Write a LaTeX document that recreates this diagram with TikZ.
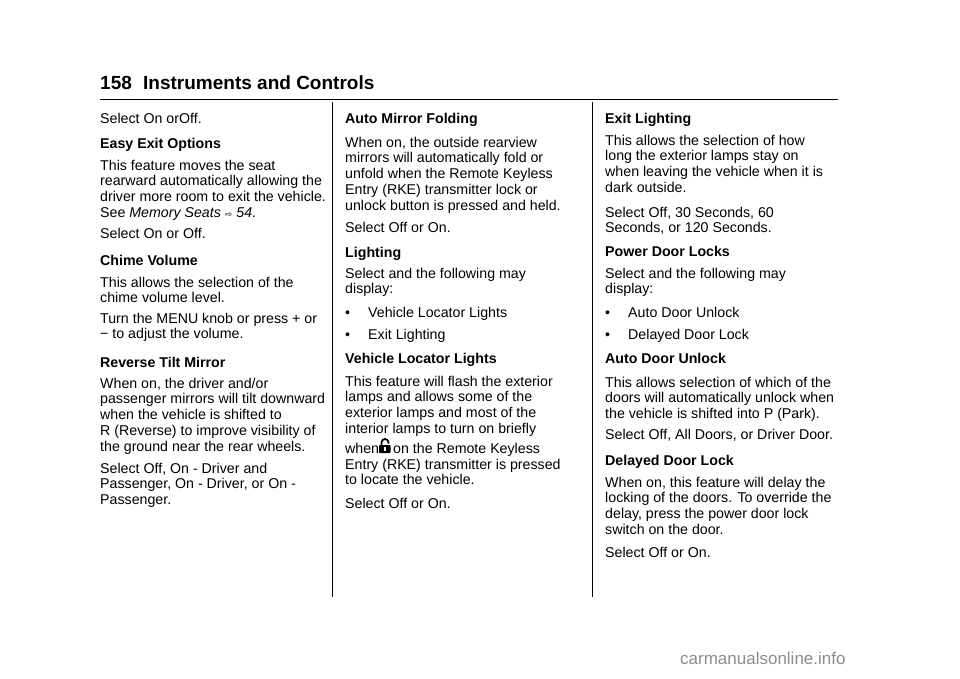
\documentclass[tikz,border=0pt]{standalone}
\usepackage{fontspec}
\setmainfont{Liberation Sans}
\newfontfamily\dejavu{DejaVu Sans}
\newcommand{\tb}[1]{\parbox[t]{260pt}{\raggedright\fontsize{14.2}{15.75}\selectfont #1}}
\begin{document}
\begin{tikzpicture}[x=1pt,y=-1pt,
 txt/.style={anchor=base west,inner sep=0pt,font=\fontsize{14.2}{15.75}\selectfont},
 hd/.style={txt,font=\fontsize{14.2}{15.75}\selectfont\bfseries},
 rl/.style={line width=0.8pt}]
\useasboundingbox (0,0) rectangle (960,678);
\fill[white] (0,0) rectangle (960,678);
% header
\node[txt,font=\fontsize{19}{22}\selectfont\bfseries] (pg) at (100,89) {158};
\node[txt,font=\fontsize{19}{22}\selectfont\bfseries] (ttl) at (143,89) {Instruments and Controls};
\coordinate (h1) at (100,99); \coordinate (h2) at (838,99);
\draw[line width=1pt] (h1) -- (h2);
\coordinate (v1a) at (332,102); \coordinate (v1b) at (332,597);
\coordinate (v2a) at (592,102); \coordinate (v2b) at (592,597);
\draw[rl] (v1a) -- (v1b); \draw[rl] (v2a) -- (v2b);
% column 1
\node[txt] (a1) at (100,123) {Select On orOff.};
\node[hd] (a2) at (100,148) {Easy Exit Options};
\node[txt] (a3) at (100,170) {\tb{This feature moves the seat\\rearward automatically allowing the\\driver more room to exit the vehicle.\\See \textit{Memory Seats} {\dejavu\fontsize{9}{10}\selectfont ⇨} \textit{54}.}};
\node[txt] (a4) at (100,238) {Select On or Off.};
\node[hd] (a5) at (100,265) {Chime Volume};
\node[txt] (a6) at (100,287) {\tb{This allows the selection of the\\chime volume level.}};
\node[txt] (a7) at (100,323) {\tb{Turn the MENU knob or press + or\\− to adjust the volume.}};
\node[hd] (a8) at (100,367) {Reverse Tilt Mirror};
\node[txt] (a9) at (100,388) {\tb{When on, the driver and/or\\passenger mirrors will tilt downward\\when the vehicle is shifted to\\R (Reverse) to improve visibility of\\the ground near the rear wheels.}};
\node[txt] (a10) at (100,473) {\tb{Select Off, On - Driver and\\Passenger, On - Driver, or On -\\Passenger.}};
% column 2
\node[hd] (b1) at (345,123) {Auto Mirror Folding};
\node[txt] (b2) at (345,147) {\tb{When on, the outside rearview\\mirrors will automatically fold or\\unfold when the Remote Keyless\\Entry (RKE) transmitter lock or\\unlock button is pressed and held.}};
\node[txt] (b3) at (345,232) {Select Off or On.};
\node[hd] (b4) at (345,257) {Lighting};
\node[txt] (b5) at (345,278) {\tb{Select and the following may\\display:}};
\node[txt] (b6) at (345,317) {•};
\node[txt] (b7) at (368,317) {Vehicle Locator Lights};
\node[txt] (b8) at (345,339) {•};
\node[txt] (b9) at (368,339) {Exit Lighting};
\node[hd] (b10) at (345,363) {Vehicle Locator Lights};
\node[txt] (b11) at (345,386) {\tb{This feature will flash the exterior\\lamps and allows some of the\\exterior lamps and most of the\\interior lamps to turn on briefly}};
\node[txt] (b12) at (345,453) {when};
\fill[black,rounded corners=0.8pt] (379,445) rectangle (390.5,453);
\draw[black,line width=1.8pt] (381.5,445.5) -- (381.5,442.5) arc (180:360:3.5) -- (388.5,443.5);
\fill[white] (384.2,447) rectangle (385.6,451);
\node[txt] (b13) at (393,453) {on the Remote Keyless};
\node[txt] (b14) at (345,469) {\tb{Entry (RKE) transmitter is pressed\\to locate the vehicle.}};
\node[txt] (b15) at (345,508) {Select Off or On.};
% column 3
\node[hd] (c1) at (605,123) {Exit Lighting};
\node[txt] (c2) at (605,145) {\tb{This allows the selection of how\\long the exterior lamps stay on\\when leaving the vehicle when it is\\dark outside.}};
\node[txt] (c3) at (605,217) {\tb{Select Off, 30 Seconds, 60\\Seconds, or 120 Seconds.}};
\node[hd] (c4) at (605,256) {Power Door Locks};
\node[txt] (c5) at (605,278) {\tb{Select and the following may\\display:}};
\node[txt] (c6) at (605,317) {•};
\node[txt] (c7) at (628,317) {Auto Door Unlock};
\node[txt] (c8) at (605,339) {•};
\node[txt] (c9) at (628,339) {Delayed Door Lock};
\node[hd] (c10) at (605,363) {Auto Door Unlock};
\node[txt] (c11) at (605,387) {\tb{This allows selection of which of the\\doors will automatically unlock when\\the vehicle is shifted into P (Park).}};
\node[txt] (c12) at (605,439) {Select Off, All Doors, or Driver Door.};
\node[hd] (c13) at (605,465) {Delayed Door Lock};
\node[txt] (c14) at (605,487) {\tb{When on, this feature will delay the\\locking of the doors. To override the\\delay, press the power door lock\\switch on the door.}};
\node[txt] (c15) at (605,557) {Select Off or On.};
% watermark
\node[txt,font=\fontsize{17}{20}\selectfont,text=black!45] (wm) at (680,664) {carmanualsonline.info};
\end{tikzpicture}
\end{document}
